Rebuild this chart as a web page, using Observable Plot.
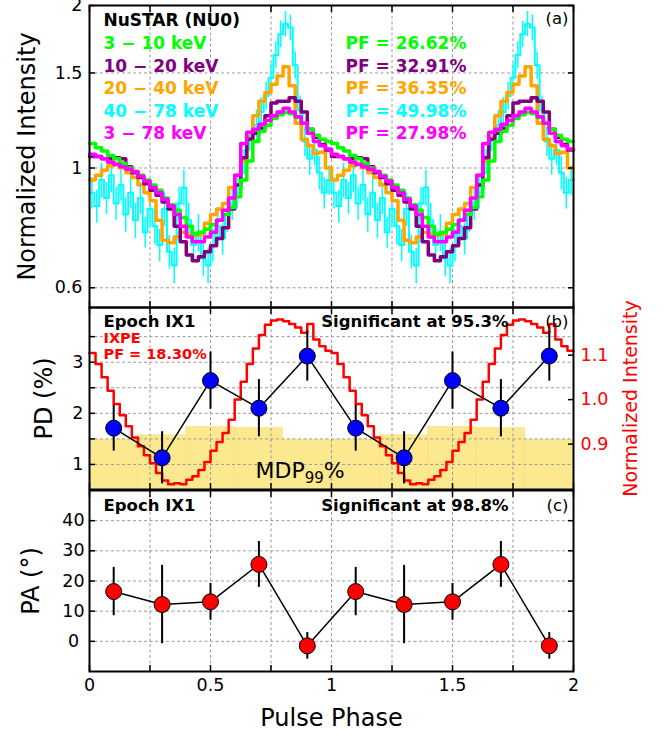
<!DOCTYPE html>
<html><head><meta charset="utf-8">
<script src="https://cdn.jsdelivr.net/npm/d3@7"></script>
<script src="https://cdn.jsdelivr.net/npm/@observablehq/plot@0.6"></script>
<style>
body{margin:0;background:#fff;}
#chart{position:relative;width:668px;height:736px;font-family:"DejaVu Sans",sans-serif;}
</style></head><body><div id="chart"></div>
<script>
// ---------------- data ----------------
const cycles = [0, 1];
const bandLabels = ["3 − 10 keV", "10 − 20 keV", "20 − 40 keV", "40 − 78 keV", "3 − 78 keV"];
const pfLabels = ["PF = 26.62%", "PF = 32.91%", "PF = 36.35%", "PF = 49.98%", "PF = 27.98%"];
const bandColors = ["#00ff00", "#800080", "#ffa500", "#00ffff", "#ff00ff"];

// NuSTAR pulse profiles (one cycle, equal phase bins)
const prof3_10 = [1.11,1.09,1.075,1.055,1.04,1.02,1.00,0.985,0.97,0.95,0.93,0.91,0.88,0.855,0.835,0.81,0.78,0.755,0.76,0.77,0.785,0.80,0.82,0.845,0.885,0.95,1.03,1.12,1.17,1.20,1.235,1.255,1.268,1.26,1.24,1.21,1.18,1.15,1.13,1.12];
const prof10_20 = [1.05,1.05,1.04,1.04,1.045,1.04,1.005,0.98,0.96,0.935,0.91,0.89,0.865,0.84,0.78,0.73,0.69,0.673,0.685,0.70,0.718,0.74,0.775,0.84,0.93,1.045,1.13,1.16,1.185,1.25,1.32,1.33,1.33,1.35,1.33,1.27,1.18,1.14,1.105,1.08];
const prof20_40 = [0.95,0.97,0.99,1.01,1.02,1.00,0.98,0.96,0.93,0.90,0.87,0.80,0.735,0.727,0.745,0.76,0.755,0.75,0.755,0.79,0.82,0.84,0.86,0.92,0.97,1.03,1.14,1.25,1.33,1.38,1.43,1.48,1.54,1.42,1.21,1.13,1.10,1.065,1.07,1.00];
const prof40_78 = [0.90,0.85,0.95,0.88,0.97,0.86,0.93,0.82,0.90,0.80,0.88,0.76,0.84,0.78,0.72,0.84,0.70,0.66,0.86,0.92,0.80,0.72,0.76,0.68,0.66,0.72,0.78,0.74,0.82,0.86,0.90,0.98,1.08,1.15,1.20,1.27,1.36,1.47,1.62,1.77,1.85,1.82,1.55,1.28,1.12,1.04,1.08,0.98,0.90,0.95];
const err40_78 = [0.06,0.06,0.07,0.06,0.07,0.06,0.06,0.06,0.06,0.06,0.06,0.05,0.06,0.06,0.05,0.06,0.05,0.05,0.06,0.07,0.06,0.05,0.06,0.05,0.05,0.05,0.06,0.05,0.06,0.06,0.06,0.07,0.07,0.07,0.08,0.08,0.08,0.09,0.09,0.10,0.10,0.10,0.09,0.08,0.07,0.07,0.07,0.07,0.06,0.06];
const prof3_78 = [1.06,1.05,1.04,1.025,1.015,1.005,0.995,0.985,0.965,0.945,0.92,0.90,0.875,0.85,0.82,0.78,0.745,0.73,0.73,0.745,0.76,0.80,0.835,0.88,0.97,1.11,1.165,1.18,1.205,1.225,1.25,1.27,1.29,1.27,1.245,1.21,1.16,1.12,1.10,1.085];

// IXPE pulse profile (one cycle)
const ixpeProfile = [1.105,1.08,1.05,1.02,0.99,0.965,0.94,0.915,0.895,0.875,0.857,0.835,0.818,0.81,0.812,0.81,0.82,0.828,0.842,0.86,0.885,0.905,0.925,0.955,1.00,1.04,1.08,1.115,1.145,1.168,1.178,1.18,1.176,1.17,1.162,1.15,1.17,1.135,1.12,1.11];

// Polarisation (phase-resolved, one cycle)
const binPhases = [0.1, 0.3, 0.5, 0.7, 0.9];
const pdValues = [1.71, 1.13, 2.64, 2.10, 3.12];
const pdErrors = [0.45, 0.51, 0.56, 0.56, 0.49];
const paValues = [16.5, 12.2, 13.1, 25.5, -1.5];
const paErrors = [8.0, 13.0, 6.1, 7.6, 4.4];
const mdpEdges = [0, 0.2, 0.4, 0.6, 0.8, 1.0];
const mdpValues = [1.48, 1.57, 1.73, 1.71, 1.48];

// ticks
const xQuarterTicks = [0, 0.25, 0.5, 0.75, 1, 1.25, 1.5, 1.75, 2];
const xGridTicks = [0.25, 0.5, 0.75, 1, 1.25, 1.5, 1.75];
const intensityTicks = [0.6, 1, 1.5, 2];
const intensityGrid = [0.6, 1, 1.5];
const pdTicks = [1, 1.5, 2, 2.5, 3, 3.5];
const ixpeTicks = [0.9, 1.0, 1.1];
const paTicks = [0, 10, 20, 30, 40];

// ---------------- helpers ----------------
function steps(values) {
  const w = 1 / values.length, out = [];
  for (const c of cycles) values.forEach((v, i) => out.push({x: c + i * w, y: v}));
  out.push({x: 2, y: values[values.length - 1]});
  return out;
}
function errBars(values, errs) {
  const w = 1 / values.length, out = [];
  for (const c of cycles) values.forEach((v, i) => out.push({x: c + (i + 0.5) * w, lo: v - errs[i], hi: v + errs[i]}));
  return out;
}
const pts = (vals, errs) => cycles.flatMap(c => binPhases.map((p, i) => ({x: c + p, y: vals[i], lo: vals[i] - errs[i], hi: vals[i] + errs[i]})));
const mdpRects = cycles.flatMap(c => mdpValues.map((v, i) => ({x1: c + mdpEdges[i], x2: c + mdpEdges[i + 1], y: v})));

const W = 668, ML = 89, MR = 95, FONT = "DejaVu Sans", TICKFS = 17.5;
const style = {background: "transparent", fontFamily: FONT, fontSize: TICKFS + "px", overflow: "visible"};
const gridOpts = {stroke: "#9a9a9a", strokeOpacity: 1, strokeWidth: 1, strokeDasharray: "3,2.5"};
const none = () => "";

function label(text, o) {
  return Plot.text([text], {
    text: d => d, frameAnchor: o.anchor || "top-left", dx: o.dx || 0, dy: o.dy || 0,
    textAnchor: o.textAnchor || "start", lineAnchor: "middle", fontSize: o.size || 16.5,
    fontWeight: o.weight || "bold", fill: o.fill || "black", rotate: o.rotate || 0
  });
}
function xTicks(bottomFmt) {
  return [
    Plot.axisX(xQuarterTicks, {anchor: "bottom", tickSize: -6, tickPadding: 13, tickFormat: bottomFmt || none, label: null, fontSize: TICKFS, strokeWidth: 1.5}),
    Plot.axisX(xQuarterTicks, {anchor: "top", tickSize: -6, tickFormat: none, label: null, strokeWidth: 1.5})
  ];
}

const chart = document.getElementById("chart");
function mount(svg, top) {
  svg.style.position = "absolute"; svg.style.left = "0px"; svg.style.top = top + "px";
  chart.appendChild(svg);
  return svg;
}

// ---------------- panel (a) ----------------
const profiles = [prof3_10, prof10_20, prof20_40, prof40_78, prof3_78];
const drawOrder = [3, 2, 1, 0, 4];
const panelA = Plot.plot({
  width: W, height: 310, marginLeft: ML, marginRight: MR, marginTop: 5, marginBottom: 3, style,
  x: {domain: [0, 2], axis: null},
  y: {type: "log", domain: [0.5516, 2], axis: null},
  marks: [
    Plot.gridX(xGridTicks, gridOpts),
    Plot.gridY(intensityGrid, gridOpts),
    Plot.ruleX(errBars(prof40_78, err40_78), {x: "x", y1: "lo", y2: "hi", stroke: bandColors[3], strokeWidth: 1.5}),
    ...drawOrder.map(k => Plot.line(steps(profiles[k]), {x: "x", y: "y", curve: "step-after", stroke: bandColors[k], strokeWidth: k === 3 ? 2 : 3.5})),
    label("NuSTAR (NU0)", {dx: 14, dy: 15, size: 17}),
    ...bandLabels.map((t, i) => label(t, {dx: 14, dy: 38 + i * 22.6, fill: bandColors[i], size: 17})),
    ...pfLabels.map((t, i) => label(t, {dx: 256, dy: 38 + i * 22.6, fill: bandColors[i], size: 17})),
    label("(a)", {anchor: "top-right", dx: -5, dy: 13, textAnchor: "end", weight: "normal"}),
    ...xTicks(),
    Plot.axisY(intensityTicks, {anchor: "left", tickSize: -6, tickPadding: 13, tickFormat: d => String(d), label: null, fontSize: TICKFS, strokeWidth: 1.5}),
    Plot.axisY(intensityTicks, {anchor: "right", tickSize: -6, tickFormat: none, label: null, strokeWidth: 1.5}),
    Plot.frame({stroke: "black", strokeWidth: 2}),
    label("Normalized Intensity", {anchor: "left", dx: -62, rotate: -90, size: 24, weight: "normal", textAnchor: "middle"})
  ]
});
mount(panelA, 0);

// ---------------- panel (b) ----------------
const pdScale = {domain: [0.51, 4.07], axis: null};
const bLayout = {width: W, height: 192, marginLeft: ML, marginRight: MR, marginTop: 7, marginBottom: 3, style, x: {domain: [0, 2], axis: null}};
const panelB1 = Plot.plot({
  ...bLayout, y: pdScale,
  marks: [
    Plot.rectY(mdpRects, {x1: "x1", x2: "x2", y1: 0, y2: "y", fill: "#fce98f", stroke: "#f6df7c", strokeWidth: 0.6, clip: true}),
    Plot.gridX(xGridTicks, gridOpts),
    Plot.gridY(pdTicks, gridOpts),
    ...xTicks(),
    Plot.axisY(pdTicks, {anchor: "left", tickSize: -6, tickPadding: 12, tickFormat: d => Number.isInteger(d) ? String(d) : "", label: null, fontSize: TICKFS, strokeWidth: 1.5}),
    label("PD (%)", {anchor: "left", dx: -45, rotate: -90, size: 24, weight: "normal", textAnchor: "middle"})
  ]
});
mount(panelB1, 300);

const panelB2 = Plot.plot({
  ...bLayout, y: {domain: [0.798, 1.207], axis: null},
  marks: [
    Plot.line(steps(ixpeProfile), {x: "x", y: "y", curve: "step-after", stroke: "#ff0000", strokeWidth: 2.5}),
    Plot.axisY(ixpeTicks, {anchor: "right", tickSize: -6, tickPadding: 13, tickFormat: d3.format(".1f"), label: null, fontSize: TICKFS, fill: "#ff0000", stroke: "black", strokeWidth: 1.5}),
    label("Normalized Intensity", {anchor: "right", dx: 57, rotate: -90, size: 19, weight: "normal", fill: "#ff0000", textAnchor: "middle"})
  ]
});
mount(panelB2, 300);

const pdPts = pts(pdValues, pdErrors);
const panelB3 = Plot.plot({
  ...bLayout, y: pdScale,
  marks: [
    Plot.ruleX(pdPts, {x: "x", y1: "lo", y2: "hi", stroke: "black", strokeWidth: 2}),
    Plot.line(pdPts, {x: "x", y: "y", stroke: "black", strokeWidth: 1.5}),
    Plot.dot(pdPts, {x: "x", y: "y", r: 8, fill: "#0000ff", stroke: "black", strokeWidth: 1}),
    label("Epoch IX1", {dx: 14, dy: 14}),
    label("IXPE", {dx: 14, dy: 31, size: 14.5, fill: "#ff0000"}),
    label("PF = 18.30%", {dx: 14, dy: 47, size: 14.5, fill: "#ff0000"}),
    label("Significant at 95.3%", {anchor: "top-right", dx: -65, dy: 14, textAnchor: "end"}),
    label("(b)", {anchor: "top-right", dx: -5, dy: 14, textAnchor: "end", weight: "normal"}),
    label("MDP99%", {anchor: "bottom-left", dx: 166, dy: -19, size: 22, weight: "normal"}),
    Plot.frame({stroke: "black", strokeWidth: 2})
  ]
});
mount(panelB3, 300);
d3.select(panelB3).selectAll("text").filter(function () { return this.textContent === "MDP99%"; })
  .each(function () {
    const t = d3.select(this); t.text(null);
    t.append("tspan").text("MDP");
    t.append("tspan").attr("font-size", "15px").attr("dy", "5").text("99");
    t.append("tspan").attr("dy", "-5").text("%");
  });

// ---------------- panel (c) ----------------
const paPts = pts(paValues, paErrors);
const panelC = Plot.plot({
  width: W, height: 256, marginLeft: ML, marginRight: MR, marginTop: 10, marginBottom: 65, style,
  x: {domain: [0, 2], axis: null},
  y: {domain: [-10, 50], axis: null},
  marks: [
    Plot.gridX(xGridTicks, gridOpts),
    Plot.gridY(paTicks, gridOpts),
    Plot.ruleX(paPts, {x: "x", y1: "lo", y2: "hi", stroke: "black", strokeWidth: 2}),
    Plot.line(paPts, {x: "x", y: "y", stroke: "black", strokeWidth: 1.5}),
    Plot.dot(paPts, {x: "x", y: "y", r: 8, fill: "#ff0000", stroke: "black", strokeWidth: 1}),
    label("Epoch IX1", {dx: 14, dy: 15}),
    label("Significant at 98.8%", {anchor: "top-right", dx: -65, dy: 15, textAnchor: "end"}),
    label("(c)", {anchor: "top-right", dx: -5, dy: 15, textAnchor: "end", weight: "normal"}),
    ...xTicks(d => (d * 2) % 1 === 0 ? String(d) : ""),
    Plot.axisY(paTicks, {anchor: "left", tickSize: -6, tickPadding: 22, textAnchor: "middle", tickFormat: d => String(d), label: null, fontSize: TICKFS, strokeWidth: 1.5}),
    Plot.axisY(paTicks, {anchor: "right", tickSize: -6, tickFormat: none, label: null, strokeWidth: 1.5}),
    Plot.frame({stroke: "black", strokeWidth: 2}),
    label("PA (°)", {anchor: "left", dx: -58, rotate: -90, size: 24, weight: "normal", textAnchor: "middle"}),
    label("Pulse Phase", {anchor: "bottom", dy: 47, textAnchor: "middle", size: 24, weight: "normal"})
  ]
});
mount(panelC, 480);
</script></body></html>
